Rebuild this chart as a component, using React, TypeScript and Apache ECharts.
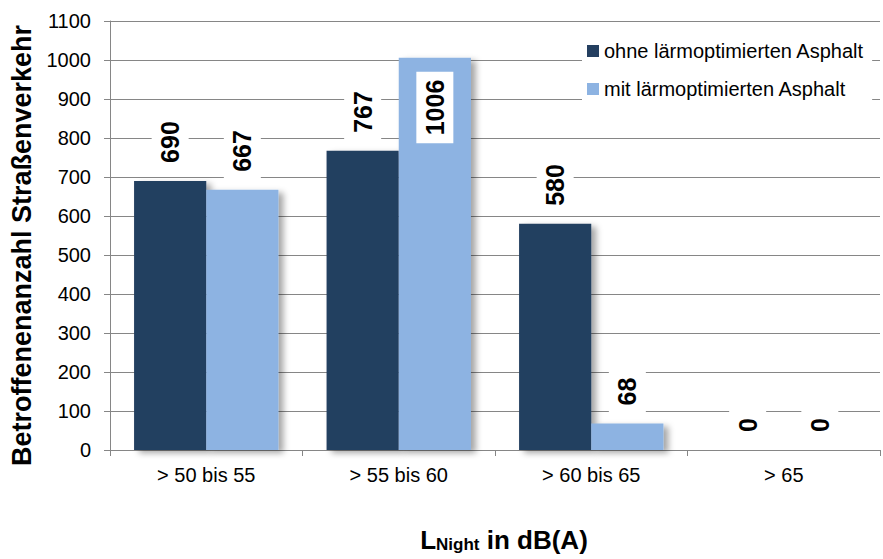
import React, { useEffect, useRef } from "react";
import * as echarts from "echarts";

const categories = ["> 50 bis 55", "> 55 bis 60", "> 60 bis 65", "> 65"];
const seriesNames = ["ohne lärmoptimierten Asphalt", "mit lärmoptimierten Asphalt"];
const ohneValues = [690, 767, 580, 0];
const mitValues = [667, 1006, 68, 0];
const yTicks = { min: 0, max: 1100, interval: 100 };
const yTitle = "Betroffenenanzahl Straßenverkehr";

const FONT = "'Liberation Sans', Arial, sans-serif";

export default function App() {
  const ref = useRef<HTMLDivElement>(null);
  useEffect(() => {
    if (!ref.current) return;
    const chart = echarts.init(ref.current, null, { renderer: "svg" });
    const baseLabel = {
      show: true,
      position: "top",
      distance: 10,
      rotate: 90,
      align: "left",
      verticalAlign: "middle",
      fontSize: 25,
      fontWeight: "bold",
      fontFamily: FONT,
      color: "#000",
      backgroundColor: "#fff",
      padding: [6, 8, 6, 8],
    };
    const shadow = {
      shadowBlur: 6,
      shadowOffsetX: 5,
      shadowOffsetY: 3,
      shadowColor: "rgba(0,0,0,0.35)",
    };
    const mitData = mitValues.map((v, i) =>
      i === 1
        ? { value: v, label: { position: "insideTop", align: "right", distance: 14 } }
        : v
    );
    chart.setOption({
      animation: false,
      textStyle: { fontFamily: FONT },
      grid: { left: 110, right: 3, top: 21, bottom: 109, containLabel: false, outerBoundsMode: "none" },
      legend: {
        orient: "vertical",
        left: 582,
        top: 36,
        padding: [5, 8, 5, 5],
        backgroundColor: "#fff",
        itemWidth: 12,
        itemHeight: 12,
        itemGap: 18,
        icon: "rect",
        textStyle: { fontSize: 20, color: "#000", fontFamily: FONT },
        data: seriesNames,
      },
      xAxis: {
        type: "category",
        data: categories,
        axisLine: { lineStyle: { color: "#868686", width: 1 } },
        axisTick: { show: true, length: 6, lineStyle: { color: "#868686" } },
        axisLabel: { fontSize: 20, color: "#000", margin: 15, fontFamily: FONT },
        name: "{l|L}{s|Night}{l| in dB(A)}",
        nameLocation: "middle",
        nameGap: 72,
        nameTextStyle: {
          padding: [0, 0, 0, 18],
          rich: {
            l: { fontSize: 26, fontWeight: "bold", color: "#000", fontFamily: FONT, verticalAlign: "bottom" },
            s: { fontSize: 17, fontWeight: "bold", color: "#000", fontFamily: FONT, padding: [14, 0, 0, 0], verticalAlign: "bottom" },
          },
        },
      },
      yAxis: {
        type: "value",
        min: yTicks.min,
        max: yTicks.max,
        interval: yTicks.interval,
        axisLine: { show: true, lineStyle: { color: "#868686", width: 1 } },
        axisTick: { show: true, length: 6, lineStyle: { color: "#868686" } },
        axisLabel: {
          fontSize: 20,
          color: "#000",
          margin: 19,
          fontFamily: FONT,
          formatter: (v: number) => String(v),
        },
        splitLine: { lineStyle: { color: "#868686", width: 1 } },
        name: yTitle,
        nameLocation: "middle",
        nameGap: 70,
        nameTextStyle: {
          fontSize: 27,
          fontWeight: "bold",
          color: "#000",
          fontFamily: FONT,
          padding: [0, 20, 0, 0],
        },
      },
      series: [
        {
          name: seriesNames[0],
          type: "bar",
          data: ohneValues,
          barGap: "0%",
          barCategoryGap: "25%",
          itemStyle: { color: "#243F60", ...shadow },
          label: baseLabel,
        },
        {
          name: seriesNames[1],
          type: "bar",
          data: mitData,
          barGap: "0%",
          barCategoryGap: "25%",
          itemStyle: { color: "#8DB3E2", ...shadow },
          label: baseLabel,
        },
      ],
    });
    return () => chart.dispose();
  }, []);
  return <div ref={ref} style={{ width: 883, height: 559, position: "absolute", left: 0, top: 0, background: "#fff" }} />;
}
